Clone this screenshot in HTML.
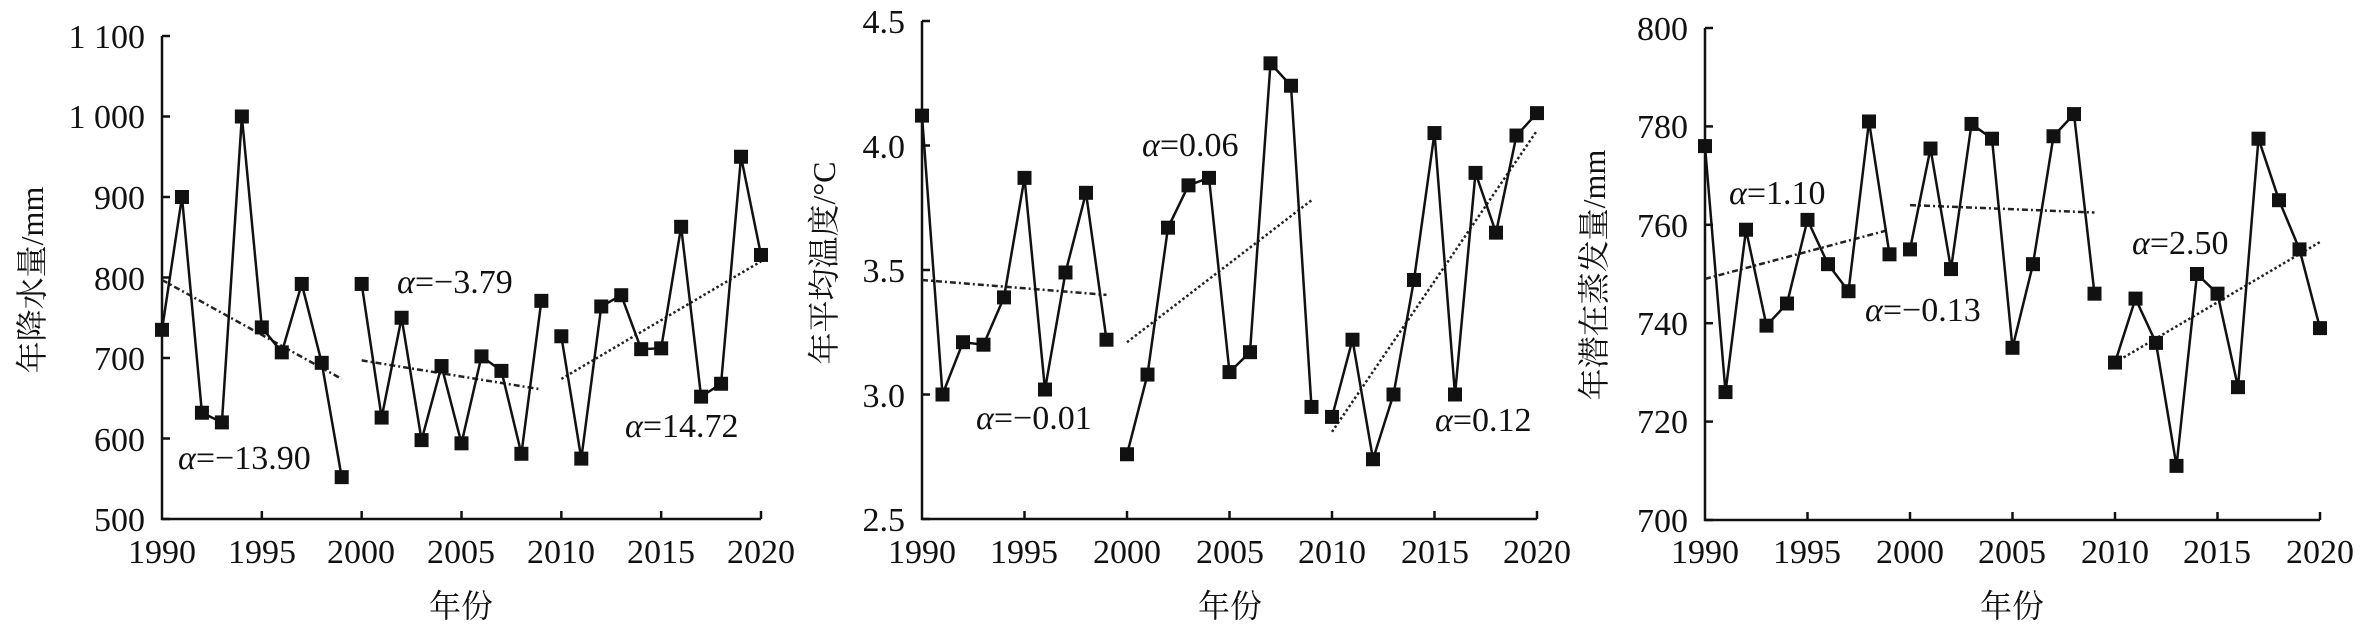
<!DOCTYPE html>
<html><head><meta charset="utf-8"><style>
html,body{margin:0;padding:0;background:#fff;}
svg{display:block;}
text{font-family:"Liberation Serif","Noto Serif CJK SC",serif;fill:#111;}
.t{font-size:34px;}
.cj{font-family:"Liberation Serif","Noto Serif CJK SC","Noto Sans CJK SC",serif;font-size:32px;}
</style></head><body>
<svg id="s" width="2362" height="626" xmlns="http://www.w3.org/2000/svg">
<g class="t">
<!-- panel 1 y labels -->
<text x="145" y="48" text-anchor="end">1 100</text>
<text x="145" y="128" text-anchor="end">1 000</text>
<text x="145" y="209" text-anchor="end">900</text>
<text x="145" y="290" text-anchor="end">800</text>
<text x="145" y="370" text-anchor="end">700</text>
<text x="145" y="451" text-anchor="end">600</text>
<text x="145" y="531" text-anchor="end">500</text>
<!-- panel 2 -->
<text x="905" y="33" text-anchor="end">4.5</text>
<text x="905" y="158" text-anchor="end">4.0</text>
<text x="905" y="282" text-anchor="end">3.5</text>
<text x="905" y="407" text-anchor="end">3.0</text>
<text x="905" y="531" text-anchor="end">2.5</text>
<!-- panel 3 -->
<text x="1688" y="40" text-anchor="end">800</text>
<text x="1688" y="138" text-anchor="end">780</text>
<text x="1688" y="237" text-anchor="end">760</text>
<text x="1688" y="335" text-anchor="end">740</text>
<text x="1688" y="433" text-anchor="end">720</text>
<text x="1688" y="532" text-anchor="end">700</text>
</g>
<g class="t" text-anchor="middle">
<text x="162" y="563">1990</text><text x="262" y="563">1995</text><text x="361" y="563">2000</text><text x="461" y="563">2005</text><text x="561" y="563">2010</text><text x="661" y="563">2015</text><text x="761" y="563">2020</text>
<text x="922" y="563">1990</text><text x="1024" y="563">1995</text><text x="1127" y="563">2000</text><text x="1230" y="563">2005</text><text x="1332" y="563">2010</text><text x="1435" y="563">2015</text><text x="1537" y="563">2020</text>
<text x="1705" y="563">1990</text><text x="1807" y="563">1995</text><text x="1910" y="563">2000</text><text x="2012" y="563">2005</text><text x="2115" y="563">2010</text><text x="2217" y="563">2015</text><text x="2320" y="563">2020</text>
</g>
<g class="cj" text-anchor="middle">
<text x="461" y="617">年份</text>
<text x="1230" y="617">年份</text>
<text x="2012" y="617">年份</text>
<text transform="translate(43,280) rotate(-90)">年降水量/mm</text>
<text transform="translate(835,263) rotate(-90)">年平均温度/°C</text>
<text transform="translate(1605,275) rotate(-90)">年潜在蒸发量/mm</text>
</g>
<g class="t">
<text x="178" y="469"><tspan font-style="italic">α</tspan>=−13.90</text>
<text x="397" y="293"><tspan font-style="italic">α</tspan>=−3.79</text>
<text x="625" y="437"><tspan font-style="italic">α</tspan>=14.72</text>
<text x="976" y="429"><tspan font-style="italic">α</tspan>=−0.01</text>
<text x="1142" y="156"><tspan font-style="italic">α</tspan>=0.06</text>
<text x="1435" y="431"><tspan font-style="italic">α</tspan>=0.12</text>
<text x="1729" y="204"><tspan font-style="italic">α</tspan>=1.10</text>
<text x="1865" y="321"><tspan font-style="italic">α</tspan>=−0.13</text>
<text x="2132" y="254"><tspan font-style="italic">α</tspan>=2.50</text>
</g>
<g id="g"></g>
</svg>
<script>
var NS="http://www.w3.org/2000/svg",g=document.getElementById("g");
function el(n,a){var e=document.createElementNS(NS,n);for(var k in a)e.setAttribute(k,a[k]);g.appendChild(e);return e;}
var P=[
{x0:162,x1:761,yb:519,yt:36,v0:500,v1:1100,ticks:[500,600,700,800,900,1000,1100],
d:[735,900,632,620,1000,738,707,792,694,552,792,626,750,598,690,594,702,684,581,771,727,575,764,778,711,712,863,652,668,950,828],
tr:[[1990,797,1999,674,"6 3 2 3"],[2000,697,2009,661,"6 3 2 3"],[2010,674,2020,820,"2.5 2.5"]]},
{x0:922,x1:1537,yb:519,yt:21,v0:2.5,v1:4.5,ticks:[2.5,3,3.5,4,4.5],
d:[4.12,3.00,3.21,3.20,3.39,3.87,3.02,3.49,3.81,3.22,2.76,3.08,3.67,3.84,3.87,3.09,3.17,4.33,4.24,2.95,2.91,3.22,2.74,3.00,3.46,4.05,3.00,3.89,3.65,4.04,4.13],
tr:[[1990,3.46,1999,3.40,"6 3 2 3"],[2000,3.21,2009,3.78,"2.5 2.5"],[2010,2.85,2020,4.06,"2.5 2.5"]]},
{x0:1705,x1:2320,yb:520,yt:28,v0:700,v1:800,ticks:[700,720,740,760,780,800],
d:[776,726,759,739.5,744,761,752,746.5,781,754,755,775.5,751,780.5,777.5,735,752,778,782.5,746,732,745,736,711,750,746,727,777.5,765,755,739],
tr:[[1990,749,1999,759,"6 3 2 3"],[2000,764,2009,762.5,"6 3 2 3"],[2010,732,2020,756.5,"2.5 2.5"]]}];
P.forEach(function(p){
 var X=function(y){return p.x0+(y-1990)*(p.x1-p.x0)/30;},Y=function(v){return p.yb-(v-p.v0)*(p.yb-p.yt)/(p.v1-p.v0);};
 el("path",{d:"M"+p.x0+" "+p.yt+"V"+p.yb+"H"+p.x1,fill:"none",stroke:"#111","stroke-width":2.5});
 p.ticks.forEach(function(t){el("line",{x1:p.x0,x2:p.x0+8,y1:Y(t),y2:Y(t),stroke:"#111","stroke-width":2.5});});
 for(var yr=1995;yr<=2020;yr+=5)el("line",{x1:X(yr),x2:X(yr),y1:p.yb,y2:p.yb-8,stroke:"#111","stroke-width":2.5});
 p.tr.forEach(function(t){el("line",{x1:X(t[0]),y1:Y(t[1]),x2:X(t[2]),y2:Y(t[3]),stroke:"#222","stroke-width":2.5,"stroke-dasharray":t[4]});});
 for(var s=0;s<3;s++){var pts=[];var n=s==2?11:10;for(var i=0;i<n;i++){var k=s*10+i;pts.push(X(1990+k)+","+Y(p.d[k]));}
  el("polyline",{points:pts.join(" "),fill:"none",stroke:"#111","stroke-width":2.5});}
 p.d.forEach(function(v,i){el("rect",{x:X(1990+i)-7,y:Y(v)-7,width:14,height:14,fill:"#111"});});
});
</script>
</body></html>
